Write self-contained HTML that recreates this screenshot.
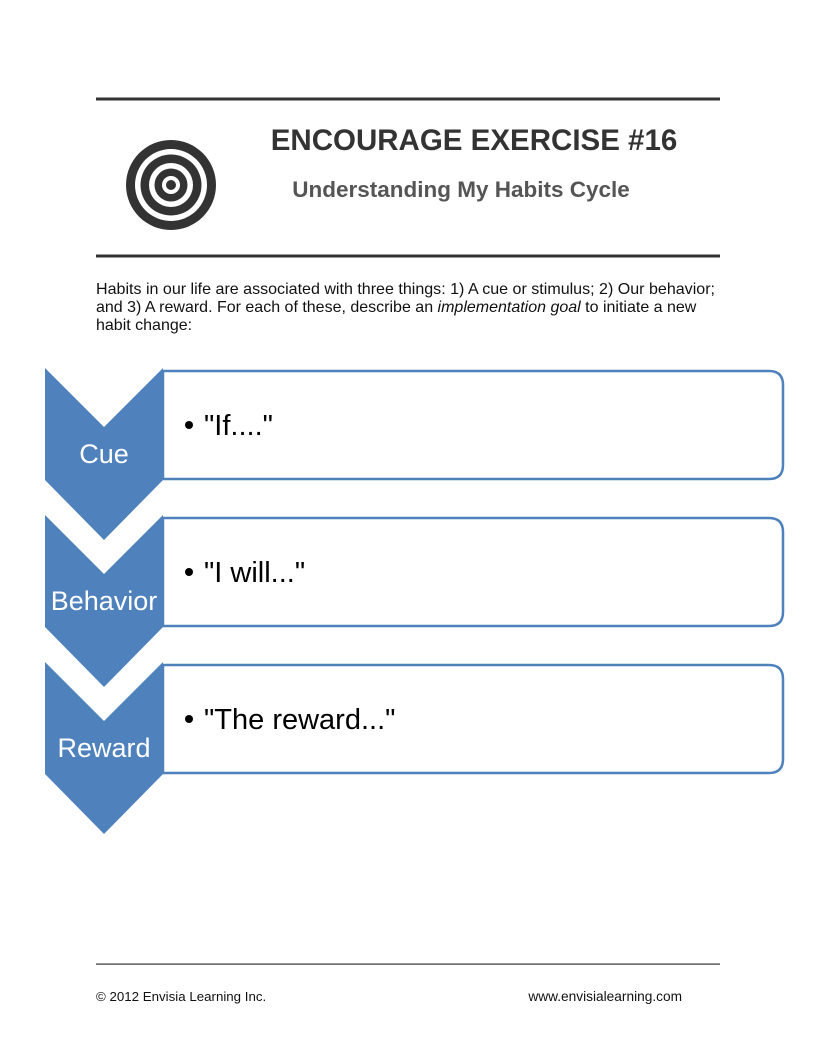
<!DOCTYPE html>
<html><head><style>
body{margin:0;background:#fff;}
</style></head><body>
<svg width="816" height="1056" xmlns="http://www.w3.org/2000/svg" style="display:block">
<rect x="96" y="97.5" width="624" height="3" fill="#333"/>
<rect x="96" y="254.5" width="624" height="3" fill="#333"/>
<rect x="96" y="963.5" width="624" height="1.2" fill="#333"/>
<circle cx="171" cy="185" r="45" fill="#333"/>
<circle cx="171" cy="185" r="36" fill="#fff"/>
<circle cx="171" cy="185" r="30.5" fill="#333"/>
<circle cx="171" cy="185" r="22" fill="#fff"/>
<circle cx="171" cy="185" r="16.5" fill="#333"/>
<circle cx="171" cy="185" r="9" fill="#fff"/>
<circle cx="171" cy="185" r="5" fill="#333"/>
<text x="474" y="150" text-anchor="middle" font-family="Liberation Sans, sans-serif" font-weight="bold" font-size="29.5" fill="#333">ENCOURAGE EXERCISE #16</text>
<text x="461" y="197" text-anchor="middle" font-family="Liberation Sans, sans-serif" font-weight="bold" font-size="22.5" fill="#555">Understanding My Habits Cycle</text>
<g font-family="Liberation Sans, sans-serif" font-size="16" fill="#111">
<text x="96" y="294" textLength="619" lengthAdjust="spacingAndGlyphs">Habits in our life are associated with three things: 1) A cue or stimulus; 2) Our behavior;</text>
<text x="96" y="312">and 3) A reward.  For each of these, describe an <tspan font-style="italic">implementation goal</tspan> to initiate a new</text>
<text x="96" y="330">habit change:</text>
</g>
<g font-family="Liberation Sans, sans-serif">
<path d="M163 371 H769 Q783 371 783 385 V465 Q783 479 769 479 H163 Z" fill="#fff" stroke="#4f81bd" stroke-width="2.5"/>
<path d="M45 368 L104 427 L163 368 V480 L104 540 L45 480 Z" fill="#4f81bd"/>
<text x="104" y="463" text-anchor="middle" font-size="27" fill="#fff">Cue</text>
<circle cx="189" cy="425" r="4" fill="#000"/>
<text x="204" y="435" font-size="29" fill="#000">"If...."</text>

<path d="M163 518 H769 Q783 518 783 532 V612 Q783 626 769 626 H163 Z" fill="#fff" stroke="#4f81bd" stroke-width="2.5"/>
<path d="M45 515 L104 574 L163 515 V627 L104 687 L45 627 Z" fill="#4f81bd"/>
<text x="104" y="610" text-anchor="middle" font-size="27" fill="#fff">Behavior</text>
<circle cx="189" cy="572" r="4" fill="#000"/>
<text x="204" y="582" font-size="29" fill="#000">"I will..."</text>

<path d="M163 665 H769 Q783 665 783 679 V759 Q783 773 769 773 H163 Z" fill="#fff" stroke="#4f81bd" stroke-width="2.5"/>
<path d="M45 662 L104 721 L163 662 V774 L104 834 L45 774 Z" fill="#4f81bd"/>
<text x="104" y="757" text-anchor="middle" font-size="27" fill="#fff">Reward</text>
<circle cx="189" cy="719" r="4" fill="#000"/>
<text x="204" y="729" font-size="29" fill="#000">"The reward..."</text>
</g>
<text x="96" y="1001" font-family="Liberation Sans, sans-serif" font-size="13.3" fill="#111">© 2012 Envisia Learning Inc.</text>
<text x="682" y="1001" text-anchor="end" font-family="Liberation Sans, sans-serif" font-size="13.7" fill="#111">www.envisialearning.com</text>
</svg>
</body></html>
